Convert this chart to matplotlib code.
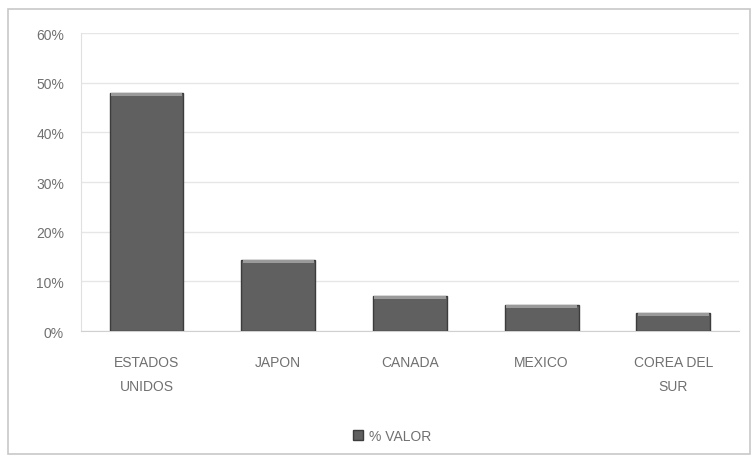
import numpy as np
import matplotlib.pyplot as plt
from matplotlib.patches import Rectangle
from matplotlib.ticker import PercentFormatter

categories = ["ESTADOS\nUNIDOS", "JAPON", "CANADA", "MEXICO", "COREA DEL\nSUR"]
valor = [47.9, 14.3, 7.1, 5.2, 3.6]
yticks = [0, 10, 20, 30, 40, 50, 60]

plt.rcParams['font.family'] = ['Liberation Sans', 'DejaVu Sans']

fig = plt.figure(figsize=(7.55, 4.6), dpi=100)
ax = fig.add_axes([0.107, 0.278, 0.872, 0.648])

x = np.arange(len(categories))
ax.bar(x, valor, width=0.56, color='#606060', edgecolor='#3c3c3c', linewidth=1.0,
       label='% VALOR', zorder=3)
# lighter rim on top of each bar
ax.bar(x, [0.6] * len(valor), bottom=np.array(valor) - 0.6, width=0.54,
       color='#9a9a9a', linewidth=0, zorder=4)

ax.set_xlim(-0.5, len(categories) - 0.5)
ax.set_ylim(0, 60)
ax.set_yticks(yticks)
ax.yaxis.set_major_formatter(PercentFormatter(decimals=0))
ax.set_xticks(x)
ax.set_xticklabels(categories, linespacing=1.9)
ax.grid(axis='y', color='#e6e6e6', linewidth=1, zorder=0)
ax.tick_params(axis='both', length=0, colors='#707070', labelsize=10)
ax.tick_params(axis='x', pad=17)
ax.tick_params(axis='y', pad=12)
for s in ['top', 'right']:
    ax.spines[s].set_visible(False)
ax.spines['left'].set_color('#e0e0e0')
ax.spines['bottom'].set_color('#d0d0d0')

ax.legend(loc='upper center', bbox_to_anchor=(0.473, -0.285), frameon=False,
          fontsize=10, labelcolor='#707070', handlelength=0.7, handleheight=0.7,
          handletextpad=0.4)

fig.patches.append(Rectangle((0.011, 0.011), 0.982, 0.968, transform=fig.transFigure,
                             fill=False, edgecolor='#c8c8c8', linewidth=1.2))

fig.savefig('out.png', dpi=100)
